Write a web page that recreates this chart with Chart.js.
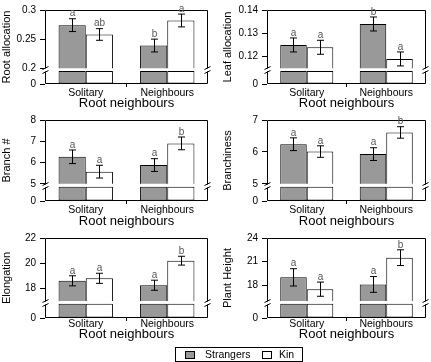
<!DOCTYPE html>
<html>
<head>
<meta charset="utf-8">
<script src="https://cdn.jsdelivr.net/npm/chart.js@4.4.1/dist/chart.umd.min.js"></script>
<style>
  body { margin: 0; background: #fff; }
  #wrap { position: relative; width: 431px; height: 362px; overflow: hidden; font-family: 'Liberation Sans', Arial, sans-serif; }
  canvas { position: absolute; }
  #legend { position: absolute; left: 175px; top: 347px; width: 126px; height: 13px; border: 1px solid #000; font-size: 10.5px; color: #000; }
  #legend span { position: absolute; }
  .sw { width: 8px; height: 6px; border: 1px solid #000; top: 3px; }
</style>
</head>
<body>
<div id="wrap">
  <canvas id="c1"></canvas>
  <canvas id="c2"></canvas>
  <canvas id="c3"></canvas>
  <canvas id="c4"></canvas>
  <canvas id="c5"></canvas>
  <canvas id="c6"></canvas>
  <div id="legend">
    <span class="sw" style="left:9px;background:#999"></span>
    <span style="left:29px;top:0px">Strangers</span>
    <span class="sw" style="left:86px;background:#fff"></span>
    <span style="left:103px;top:0px">Kin</span>
  </div>
</div>
<script>
const categories = ['Solitary', 'Neighbours'];
const xTitle = 'Root neighbours';

// root allocation
const rootAllocStrangers = [0.274, 0.239];
const rootAllocKin = [0.258, 0.282];
const rootAllocStrangersSE = [0.011, 0.011];
const rootAllocKinSE = [0.010, 0.011];
const rootAllocStrangersLetters = ['a', 'b'];
const rootAllocKinLetters = ['ab', 'a'];
const rootAllocTicks = [0.2, 0.25, 0.3];
const rootAllocRange = [0.2, 0.3];

// leaf allocation
const leafAllocStrangers = [0.125, 0.134];
const leafAllocKin = [0.124, 0.119];
const leafAllocStrangersSE = [0.003, 0.003];
const leafAllocKinSE = [0.003, 0.003];
const leafAllocStrangersLetters = ['a', 'b'];
const leafAllocKinLetters = ['a', 'a'];
const leafAllocTicks = [0.12, 0.13, 0.14];
const leafAllocRange = [0.115, 0.14];

// branch number
const branchStrangers = [6.27, 5.88];
const branchKin = [5.57, 6.9];
const branchStrangersSE = [0.32, 0.3];
const branchKinSE = [0.3, 0.3];
const branchStrangersLetters = ['a', 'a'];
const branchKinLetters = ['a', 'b'];
const branchTicks = [5, 6, 7, 8];
const branchRange = [5, 8];

// branchiness
const branchinessStrangers = [6.24, 5.93];
const branchinessKin = [6.01, 6.61];
const branchinessStrangersSE = [0.2, 0.2];
const branchinessKinSE = [0.18, 0.18];
const branchinessStrangersLetters = ['a', 'a'];
const branchinessKinLetters = ['a', 'b'];
const branchinessTicks = [5, 6, 7];
const branchinessRange = [5, 7];

// elongation
const elongStrangers = [18.6, 18.25];
const elongKin = [18.8, 20.2];
const elongStrangersSE = [0.4, 0.4];
const elongKinSE = [0.4, 0.35];
const elongStrangersLetters = ['a', 'a'];
const elongKinLetters = ['a', 'b'];
const elongTicks = [18, 20, 22];
const elongRange = [17, 22];

// plant height
const heightStrangers = [19.0, 18.1];
const heightKin = [17.5, 21.5];
const heightStrangersSE = [1.1, 1.0];
const heightKinSE = [0.9, 1.0];
const heightStrangersLetters = ['a', 'a'];
const heightKinLetters = ['a', 'b'];
const heightTicks = [18, 21, 24];
const heightRange = [16, 24];

const FONT = "'Liberation Sans', Arial, sans-serif";
const GREY = '#999999';

// frame, axis break, error bars, letters, y title
const panelDecor = {
  id: 'panelDecor',
  afterDatasetsDraw(chart, args, opts) {
    const ctx = chart.ctx;
    const ya = chart.scales.y, yb = chart.scales.y2;
    const left = Math.round(chart.chartArea.left) + 0.5;
    const right = Math.round(chart.chartArea.right) - 0.5;
    const top = Math.round(ya.top) + 0.5;
    const mid = Math.round(ya.bottom) + 0.5;
    const lowTop = Math.round(yb.getPixelForValue(opts.brk)) + 0.5;
    const bottom = Math.round(yb.bottom) - 0.5;
    ctx.save();
    ctx.strokeStyle = '#000';
    ctx.lineWidth = 1;
    ctx.beginPath();
    ctx.moveTo(left, mid); ctx.lineTo(left, top); ctx.lineTo(right, top); ctx.lineTo(right, mid);
    ctx.moveTo(left, lowTop); ctx.lineTo(left, bottom); ctx.lineTo(right, bottom); ctx.lineTo(right, lowTop);
    ctx.stroke();
    [left, right].forEach(x => {
      ctx.beginPath();
      ctx.moveTo(x - 3, mid + 1); ctx.lineTo(x + 3, mid - 2);
      ctx.moveTo(x - 3, lowTop + 2); ctx.lineTo(x + 3, lowTop - 1);
      ctx.stroke();
    });

    ctx.font = '10px ' + FONT;
    ctx.textAlign = 'center';
    ctx.textBaseline = 'middle';
    chart.data.datasets.forEach((ds, di) => {
      if (!ds.se) return;
      const meta = chart.getDatasetMeta(di);
      meta.data.forEach((bar, i) => {
        const v = ds.data[i];
        const x = Math.round(bar.x) + 0.5;
        const y1 = ya.getPixelForValue(v + ds.se[i]);
        const y2 = ya.getPixelForValue(v - ds.se[i]);
        ctx.strokeStyle = '#000';
        ctx.beginPath();
        ctx.moveTo(x, y1); ctx.lineTo(x, y2);
        ctx.moveTo(x - 3.5, y1); ctx.lineTo(x + 3.5, y1);
        ctx.moveTo(x - 3.5, y2); ctx.lineTo(x + 3.5, y2);
        ctx.stroke();
        ctx.fillStyle = '#555';
        ctx.fillText(ds.letters[i], x, y1 - 5);
      });
    });

    ctx.fillStyle = '#000';
    ctx.font = '11px ' + FONT;
    ctx.translate(opts.titleX, (ya.top + yb.bottom) / 2);
    ctx.rotate(-Math.PI / 2);
    ctx.fillText(opts.title, 0, 0);
    ctx.restore();
  }
};

function makePanel(id, p) {
  const cv = document.getElementById(id);
  cv.width = p.w; cv.height = p.h;
  cv.style.left = p.x + 'px';
  cv.style.top = p.y + 'px';
  const brk = p.range[0];
  const bar = { borderColor: '#000', borderWidth: 1, borderSkipped: false, categoryPercentage: 0.667, barPercentage: 1 };
  new Chart(cv.getContext('2d'), {
    type: 'bar',
    data: {
      labels: categories,
      datasets: [
        { label: 'Strangers', data: p.s, se: p.sSE, letters: p.sL, yAxisID: 'y', stack: 's', backgroundColor: GREY, ...bar },
        { label: 'Kin', data: p.k, se: p.kSE, letters: p.kL, yAxisID: 'y', stack: 'k', backgroundColor: '#fff', ...bar },
        { label: 'Strangers', data: [brk, brk], yAxisID: 'y2', stack: 's', backgroundColor: GREY, ...bar },
        { label: 'Kin', data: [brk, brk], yAxisID: 'y2', stack: 'k', backgroundColor: '#fff', ...bar }
      ]
    },
    options: {
      responsive: false,
      animation: false,
      devicePixelRatio: 1,
      layout: { padding: { left: 0, top: p.top, right: p.right, bottom: 0 } },
      plugins: {
        legend: { display: false },
        tooltip: { enabled: false },
        panelDecor: { brk: brk, title: p.title, titleX: p.titleX }
      },
      scales: {
        x: {
          grid: { drawOnChartArea: false, drawTicks: true, tickLength: 3, offset: true,
                  tickColor: c => c.index === 1 ? '#000' : 'rgba(0,0,0,0)' },
          border: { display: false },
          ticks: { color: '#000', font: { family: FONT, size: 10.5, lineHeight: 1 }, padding: p.xPad, maxRotation: 0, autoSkip: false },
          title: { display: true, text: xTitle, color: '#000', font: { family: FONT, size: 13, lineHeight: 1 }, padding: 0 },
          afterFit: s => { s.height = p.h - p.bottom; }
        },
        y: {
          type: 'linear', position: 'left', stack: 'v', stackWeight: 3.7, stacked: false, weight: 1,
          min: p.range[0], max: p.range[1],
          grid: { drawOnChartArea: false, drawTicks: true, tickLength: 5, tickColor: '#000' },
          border: { display: false },
          ticks: { color: '#000', font: { family: FONT, size: 10 }, padding: 4, autoSkip: false, callback: v => String(v) },
          afterBuildTicks: s => { s.ticks = p.ticks.map(v => ({ value: v })); },
          afterFit: s => { s.width = p.left; }
        },
        y2: {
          type: 'linear', position: 'left', stack: 'v', stackWeight: 1, stacked: false, weight: 0,
          min: 0, max: brk * 1.2,
          grid: { drawOnChartArea: false, drawTicks: true, tickLength: 5, tickColor: '#000' },
          border: { display: false },
          ticks: { color: '#000', font: { family: FONT, size: 10 }, padding: 4, autoSkip: false, callback: v => String(v) },
          afterBuildTicks: s => { s.ticks = [{ value: 0 }]; },
          afterFit: s => { s.width = p.left; }
        }
      }
    },
    plugins: [panelDecor]
  });
}

const rows = [
  { y: 0, h: 110, bottom: 84, xPad: 1 },
  { y: 110, h: 118, bottom: 91, xPad: 1 },
  { y: 225, h: 116, bottom: 93, xPad: -2 }
];
const leftCol = { x: 0, w: 215, left: 45, right: 7, titleX: 7 };
const rightCol = { x: 215, w: 216, left: 52, right: 5, titleX: 13 };

makePanel('c1', { ...leftCol, ...rows[0], top: 4, title: 'Root allocation',
  s: rootAllocStrangers, k: rootAllocKin, sSE: rootAllocStrangersSE, kSE: rootAllocKinSE,
  sL: rootAllocStrangersLetters, kL: rootAllocKinLetters, ticks: rootAllocTicks, range: rootAllocRange });
makePanel('c2', { ...rightCol, ...rows[0], top: 3, title: 'Leaf allocation',
  s: leafAllocStrangers, k: leafAllocKin, sSE: leafAllocStrangersSE, kSE: leafAllocKinSE,
  sL: leafAllocStrangersLetters, kL: leafAllocKinLetters, ticks: leafAllocTicks, range: leafAllocRange });
makePanel('c3', { ...leftCol, ...rows[1], top: 8, title: 'Branch #',
  s: branchStrangers, k: branchKin, sSE: branchStrangersSE, kSE: branchKinSE,
  sL: branchStrangersLetters, kL: branchKinLetters, ticks: branchTicks, range: branchRange });
makePanel('c4', { ...rightCol, ...rows[1], top: 9, title: 'Branchiness',
  s: branchinessStrangers, k: branchinessKin, sSE: branchinessStrangersSE, kSE: branchinessKinSE,
  sL: branchinessStrangersLetters, kL: branchinessKinLetters, ticks: branchinessTicks, range: branchinessRange });
makePanel('c5', { ...leftCol, ...rows[2], top: 13, title: 'Elongation',
  s: elongStrangers, k: elongKin, sSE: elongStrangersSE, kSE: elongKinSE,
  sL: elongStrangersLetters, kL: elongKinLetters, ticks: elongTicks, range: elongRange });
makePanel('c6', { ...rightCol, ...rows[2], top: 13, title: 'Plant Height',
  s: heightStrangers, k: heightKin, sSE: heightStrangersSE, kSE: heightKinSE,
  sL: heightStrangersLetters, kL: heightKinLetters, ticks: heightTicks, range: heightRange });
</script>
</body>
</html>
